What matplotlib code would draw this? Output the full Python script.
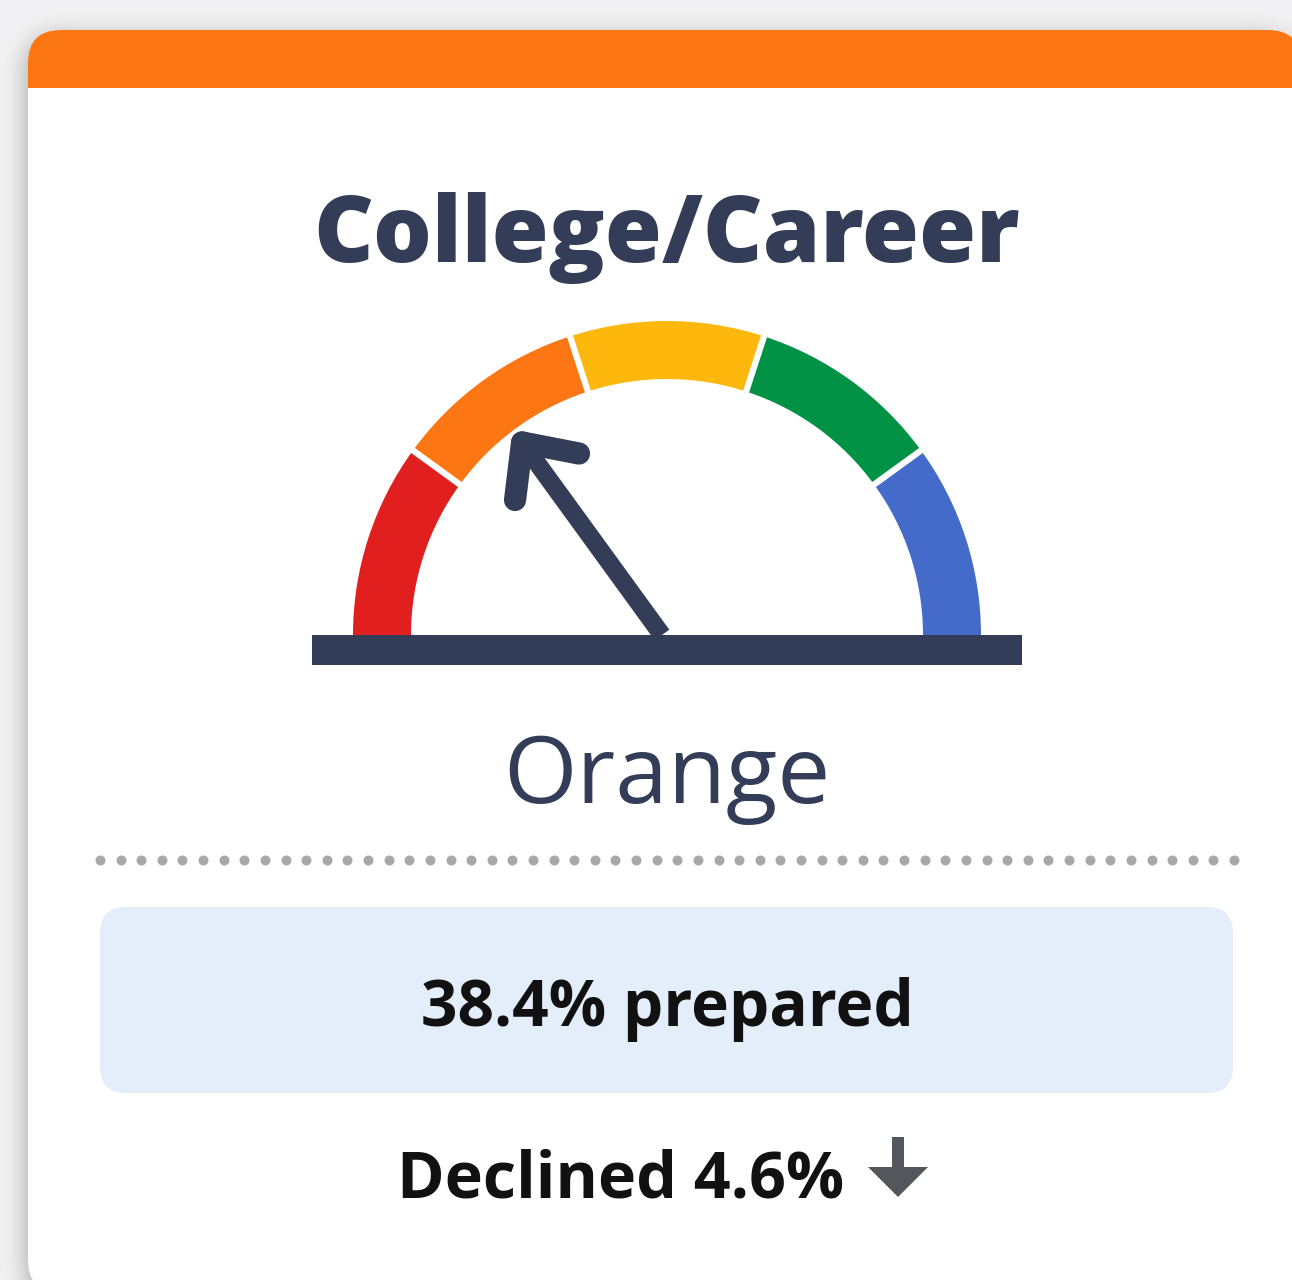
import numpy as np
import matplotlib
matplotlib.use("Agg")
import matplotlib.pyplot as plt
from matplotlib.patches import FancyBboxPatch, Rectangle, Wedge, Polygon

W, H = 1292, 1280

# данні картки
title = "College/Career"
status = "Orange"
rate = 38.4
change = -4.6
band_colors = ["#e11f1f", "#fd7614", "#fdb70d", "#029245", "#446bca"]
needle_value = 0.30  # частка шкали (0 - ліворуч, 1 - праворуч)

navy = "#343d58"
plt.rcParams['font.family'] = ['Open Sans', 'DejaVu Sans']


def Y(y):
    # екранна координата -> координата осі (вісь y вгору)
    return H - y


fig = plt.figure(figsize=(W / 100, H / 100), dpi=100)
ax = fig.add_axes([0, 0, 1, 1])
ax.set_xlim(0, W)
ax.set_ylim(0, H)
ax.axis('off')

# фон з тінню картки
cx0, cy0, cx1, cy1, rad = 28, 30, 1301, 1293, 33
yy, xx = np.mgrid[0:H, 0:W]
sx, sy = -5, 3
dx = np.maximum(np.maximum(cx0 + rad + sx - xx, xx - (cx1 - rad + sx)), 0)
dy = np.maximum(np.maximum(cy0 + rad + sy - yy, yy - (cy1 - rad + sy)), 0)
mask = (np.hypot(dx, dy) <= rad).astype(float)
k = 9
for _ in range(3):
    c = np.cumsum(np.pad(mask, ((0, 0), (k, k)), mode='edge'), axis=1)
    mask = (c[:, 2 * k:] - np.pad(c, ((0, 0), (1, 0)))[:, :-2 * k - 1]) / (2 * k + 1)
    c = np.cumsum(np.pad(mask, ((k, k), (0, 0)), mode='edge'), axis=0)
    mask = (c[2 * k:, :] - np.pad(c, ((1, 0), (0, 0)))[:-2 * k - 1, :]) / (2 * k + 1)
bg = 0.945 - 0.22 * mask
ax.imshow(np.dstack([bg, bg, bg * 1.005]).clip(0, 1), extent=(0, W, 0, H),
          origin='upper', zorder=0, interpolation='bilinear')

card = FancyBboxPatch((cx0, Y(cy1)), cx1 - cx0, cy1 - cy0,
                      boxstyle=f"round,pad=0,rounding_size={rad}",
                      fc="white", ec="none", zorder=1)
ax.add_patch(card)
header = Rectangle((cx0, Y(88)), cx1 - cx0, 88 - cy0, fc="#fd7614", ec="none", zorder=2)
ax.add_patch(header)
header.set_clip_path(card)

# заголовок
ax.text(667, Y(262), title, ha='center', va='baseline', fontsize=66.6,
        fontweight='heavy', color=navy, zorder=3)

# шкала
gx, gy = 667, Y(635)
r_out, width = 314, 58
n = len(band_colors)
for i, col in enumerate(band_colors):
    a1 = 180 - i * 180 / n
    a0 = a1 - 180 / n
    ax.add_patch(Wedge((gx, gy), r_out, a0, a1, width=width, fc=col, ec="none", zorder=3))
for i in range(1, n):
    a = np.radians(180 - i * 180 / n)
    ax.plot([gx + (r_out - width - 5) * np.cos(a), gx + (r_out + 5) * np.cos(a)],
            [gy + (r_out - width - 5) * np.sin(a), gy + (r_out + 5) * np.sin(a)],
            color="white", lw=4.5, zorder=4, solid_capstyle='butt')

# стрілка
ang = np.radians(180 - needle_value * 180)
bx, by = 662, gy
length = 238
tx, ty = bx + length * np.cos(ang), by + length * np.sin(ang)
ax.plot([bx, tx - 8 * np.cos(ang)], [by, ty - 8 * np.sin(ang)], color=navy, lw=13,
        solid_capstyle='butt', zorder=5)
arm = 58
for s in (1, -1):
    a2 = ang + np.pi + s * np.radians(43)
    ax.plot([tx, tx + arm * np.cos(a2)], [ty, ty + arm * np.sin(a2)], color=navy, lw=16,
            solid_capstyle='round', zorder=5)
ax.plot([tx], [ty], 'o', ms=11, color=navy, zorder=5)

ax.add_patch(Rectangle((312, Y(665)), 1022 - 312, 30, fc=navy, ec="none", zorder=6))

# статус
ax.text(667, Y(803), status, ha='center', va='baseline', fontsize=68,
        color=navy, zorder=3)

# пунктир
dots_x = np.linspace(100, 1234, 56)
ax.plot(dots_x, np.full_like(dots_x, Y(860)), 'o', ms=7.2, color="#a8a8aa",
        mec="none", zorder=3)

# блок значення
ax.add_patch(FancyBboxPatch((100, Y(1093)), 1133, 186,
                            boxstyle="round,pad=0,rounding_size=26",
                            fc="#e3eefa", ec="none", zorder=3))
ax.text(667, Y(1026), f"{rate}% prepared", ha='center', va='baseline', fontsize=46,
        fontweight='bold', color="#111111", zorder=4)

# зміна
word = "Declined" if change < 0 else "Increased"
ax.text(621, Y(1197), f"{word} {abs(change)}%", ha='center', va='baseline', fontsize=46.5,
        fontweight='bold', color="#111111", zorder=4)
ax.add_patch(Polygon([(892, Y(1137)), (904, Y(1137)), (904, Y(1167)), (928, Y(1167)),
                      (898, Y(1197)), (868, Y(1167)), (892, Y(1167))],
                     closed=True, fc="#53565a", ec="none", zorder=4))

fig.savefig("out.png", dpi=100)
